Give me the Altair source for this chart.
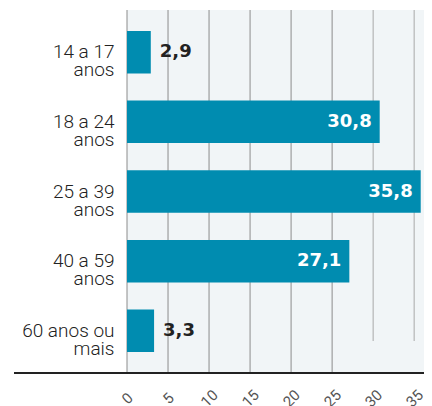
import altair as alt
import pandas as pd

categories = ["14 a 17 anos", "18 a 24 anos", "25 a 39 anos", "40 a 59 anos", "60 anos ou mais"]
label_lines = [["14 a 17", "anos"], ["18 a 24", "anos"], ["25 a 39", "anos"], ["40 a 59", "anos"], ["60 anos ou", "mais"]]
values = [2.9, 30.8, 35.8, 27.1, 3.3]
x_ticks = [0, 5, 10, 15, 20, 25, 30, 35]
grid_full = [0, 5, 10, 15, 20, 25]
grid_short = [30, 35]

BAR = "#008cb0"
FONT = "Roboto"
W, H = 297, 363

df = pd.DataFrame({
    "cat": categories,
    "v": values,
    "txt": [f"{v:.1f}".replace(".", ",") for v in values],
})
df["inside"] = df["v"] > 10

label_map = {c: l for c, l in zip(categories, label_lines)}
label_expr = "{" + ",".join(f"'{c}': ['{l[0]}', '{l[1]}']" for c, l in label_map.items()) + "}[datum.value]"

xscale = alt.Scale(domain=[0, 36.2], nice=False, zero=True)
yscale = alt.Scale(domain=categories, paddingInner=0.39, paddingOuter=0.3)
xaxis = alt.Axis(values=x_ticks, grid=False, domain=False, ticks=False,
                 labelAngle=315, labelAlign="center", labelBaseline="middle",
                 labelPadding=25, labelFont=FONT, labelFontSize=15,
                 labelColor="#555555", title=None)
yaxis = alt.Axis(domain=False, ticks=False, labelFont=FONT, labelFontSize=19,
                 labelFontWeight=300,
                 labelColor="#222222", labelPadding=13, labelLineHeight=18,
                 labelExpr=label_expr, labelLimit=200, title=None)

grid1 = alt.Chart(pd.DataFrame({"g": grid_full})).mark_rule(color="#8c8c8c", strokeWidth=1).encode(
    x=alt.X("g:Q", scale=xscale, axis=xaxis, title=None), y=alt.value(0), y2=alt.value(H))
grid2 = alt.Chart(pd.DataFrame({"g": grid_short})).mark_rule(color="#a8a8a8", strokeWidth=1).encode(
    x=alt.X("g:Q", scale=xscale, axis=xaxis, title=None), y=alt.value(0), y2=alt.value(331))

bars = alt.Chart(df).mark_bar(color=BAR).encode(
    x=alt.X("v:Q", scale=xscale, axis=xaxis, title=None),
    y=alt.Y("cat:N", scale=yscale, sort=categories, axis=yaxis, title=None),
)

VFONT = "DejaVu Sans"
txt_out = alt.Chart(df).transform_filter("!datum.inside").mark_text(
    align="left", baseline="middle", dx=9, font=VFONT, fontSize=18, fontWeight="bold", color="#222222"
).encode(x=alt.X("v:Q", scale=xscale, axis=xaxis, title=None),
         y=alt.Y("cat:N", scale=yscale, sort=categories, axis=yaxis, title=None), text="txt:N")

txt_in = alt.Chart(df).transform_filter("datum.inside").mark_text(
    align="right", baseline="middle", dx=-8, font=VFONT, fontSize=18, fontWeight="bold", color="white"
).encode(x=alt.X("v:Q", scale=xscale, axis=xaxis, title=None),
         y=alt.Y("cat:N", scale=yscale, sort=categories, axis=yaxis, title=None), text="txt:N")

axis_line = alt.Chart(pd.DataFrame({"a": [0]})).mark_rule(color="#222222", strokeWidth=2).encode(
    x=alt.value(-113), x2=alt.value(W), y=alt.value(H))

chart = alt.layer(grid1, grid2, bars, txt_out, txt_in, axis_line).properties(
    width=W, height=H,
    autosize=alt.AutoSizeParams(type="none"),
    padding={"left": 119, "top": 2, "right": 0, "bottom": 33},
).configure_view(fill="#f1f5f7", stroke=None)

chart.save("out.html", embed_options={"renderer": "svg", "actions": False})
